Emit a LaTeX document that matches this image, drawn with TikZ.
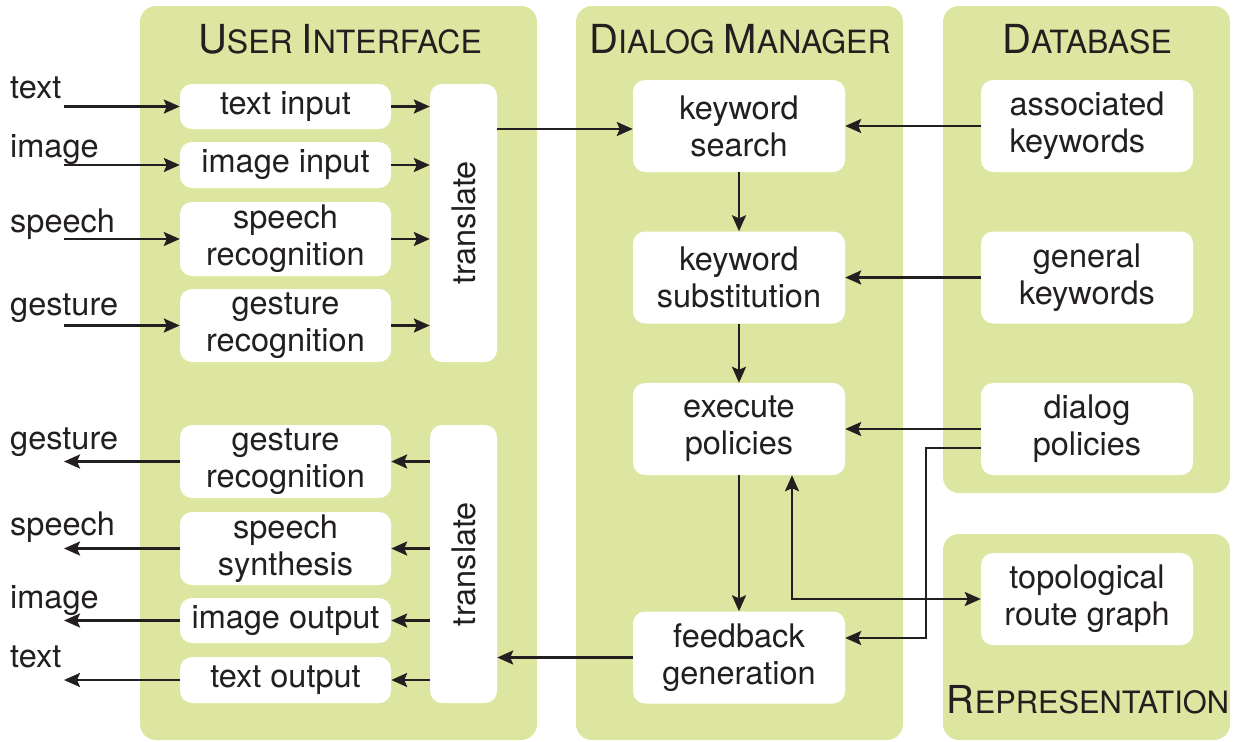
\documentclass[tikz,border=0pt]{standalone}
\usepackage{fontspec}
\setmainfont{TeX Gyre Heros}
\usetikzlibrary{arrows.meta}
\definecolor{ink}{HTML}{231F20}
\definecolor{panelgreen}{HTML}{DDE6A0}
\newcommand\boxfont{\fontsize{32.5}{37}\selectfont}
\newcommand\capL{\fontsize{40}{42}\selectfont}
\newcommand\capS{\fontsize{32}{42}\selectfont}
\newcommand\capLr{\fontsize{38.5}{42}\selectfont}
\newcommand\capSr{\fontsize{30.8}{42}\selectfont}
\tikzset{
  panel/.style={fill=panelgreen, rounded corners=16pt},
  blk/.style={fill=white, rounded corners=12pt, inner sep=0pt, text=ink,
    font=\boxfont, align=center},
  uibox/.style={blk, minimum width=211pt},
  dmbox/.style={blk, minimum width=212pt, minimum height=92pt},
  trbox/.style={blk, minimum width=67pt, minimum height=278pt},
  lbl/.style={anchor=base west, inner sep=0pt, text=ink, font=\boxfont},
  ttl/.style={anchor=base, inner sep=0pt, text=ink},
  arr/.style={draw=ink, line width=2.5pt,
    -{Stealth[length=16pt, width=14pt, inset=3pt]}},
  darr/.style={draw=ink, line width=2.5pt,
    {Stealth[length=16pt, width=14pt, inset=3pt]}-{Stealth[length=16pt, width=14pt, inset=3pt]}}
}
\begin{document}
\begin{tikzpicture}[x=1pt, y=-1pt]
\useasboundingbox (0,0) rectangle (1235,742);

% background panels
\fill[panel] (140,6) rectangle (537,740);
\fill[panel] (576,6) rectangle (903,740);
\fill[panel] (943,6) rectangle (1230,493);
\fill[panel] (943,534) rectangle (1230,740);

% panel titles
\node[ttl] (tUI) at (340,53) {\capL U\capS SER \capL I\capS NTERFACE};
\node[ttl] (tDM) at (740,53) {\capL D\capS IALOG \capL M\capS ANAGER};
\node[ttl] (tDB) at (1087,53) {\capL D\capS ATABASE};
\node[ttl] (tRP) at (1088,713) {\capLr R\capSr EPRESENTATION};

% user interface: input side
\node[uibox, minimum height=45pt] (tin)   at (285.5,106.5) {text input};
\node[uibox, minimum height=46pt] (iin)   at (285.5,165)   {image input};
\node[uibox, minimum height=74pt] (sprec) at (285.5,239)   {speech\\recognition};
\node[uibox, minimum height=73pt] (grec)  at (285.5,325.5) {gesture\\recognition};
\node[trbox] (trin) at (463.5,223) {\rotatebox{90}{translate}};

% user interface: output side
\node[uibox, minimum height=73pt] (gout) at (285.5,461.5) {gesture\\recognition};
\node[uibox, minimum height=73pt] (ssyn) at (285.5,548.5) {speech\\synthesis};
\node[uibox, minimum height=45pt] (iout) at (285.5,620.5) {image output};
\node[uibox, minimum height=46pt] (tout) at (285.5,680)   {text output};
\node[trbox] (trout) at (463.5,564) {\rotatebox{90}{translate}};

% dialog manager
\node[dmbox] (ks)   at (739,126)   {keyword\\search};
\node[dmbox] (ksub) at (739,277.5) {keyword\\substitution};
\node[dmbox] (ep)   at (739,429)   {execute\\policies};
\node[dmbox] (fg)   at (739,657.5) {feedback\\generation};

% database and representation
\node[dmbox, align=left] (ak) at (1087,126)   {associated\\keywords};
\node[dmbox] (gk)  at (1087,277.5) {general\\keywords};
\node[dmbox] (dp)  at (1087,429)   {dialog\\policies};
\node[dmbox] (trg) at (1087,599)   {topological\\route graph};

% external modality labels
\node[lbl] (lti) at (10,98)  {text};
\node[lbl] (lii) at (10,157) {image};
\node[lbl] (lsi) at (10,232) {speech};
\node[lbl] (lgi) at (10,315) {gesture};
\node[lbl] (lgo) at (10,449) {gesture};
\node[lbl] (lso) at (10,535) {speech};
\node[lbl] (lio) at (10,608) {image};
\node[lbl] (lto) at (10,667) {text};

% incoming modalities
\foreach \b in {tin,iin,sprec,grec}{
  \draw[arr] (64,0 |- \b.west) -- (\b.west);
  \draw[arr] (\b.east) -- (\b.east -| trin.west);
}
% outgoing modalities
\foreach \b in {gout,ssyn,iout,tout}{
  \draw[arr] (\b.east -| trout.west) -- (\b.east);
  \draw[arr] (\b.west) -- (64,0 |- \b.west);
}

% translate -> keyword search
\coordinate (ksin) at ([yshift=-3pt]ks.west);
\draw[arr] (ksin -| trin.east) -- (ksin);

% dialog manager chain
\draw[arr] (ks) -- (ksub);
\draw[arr] (ksub) -- (ep);
\draw[arr] (ep) -- (fg);
\draw[arr] (fg.west) -- (fg.west -| trout.east);

% database feeds
\draw[arr] (ak) -- (ks);
\draw[arr] (gk) -- (ksub);
\draw[arr] (dp) -- (ep);
\coordinate (dpo) at ([yshift=-19pt]dp.west);
\coordinate (fgin) at ([yshift=19.5pt]fg.east);
\draw[arr] (dpo) -- (926,0 |- dpo) -- (926,0 |- fgin) -- (fgin);

% route graph exchange
\draw[darr] (792,0 |- ep.south) -- (792,0 |- trg.west) -- (trg.west);
\end{tikzpicture}
\end{document}
